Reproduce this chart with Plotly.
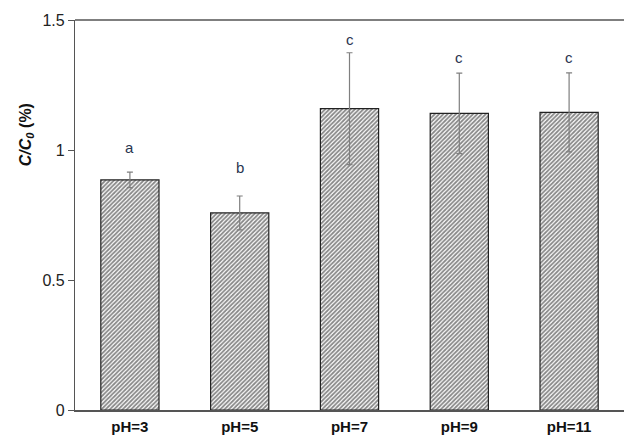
import plotly.graph_objects as go

categories = ["pH=3", "pH=5", "pH=7", "pH=9", "pH=11"]
values = [0.885, 0.758, 1.159, 1.141, 1.145]
errors = [0.03, 0.065, 0.215, 0.155, 0.152]
letters = ["a", "b", "c", "c", "c"]
letter_offset = [0.095, 0.11, 0.05, 0.06, 0.06]

fig = go.Figure()
fig.add_trace(go.Bar(
    x=categories, y=values,
    marker=dict(color="white", line=dict(color="#222222", width=1.2),
                pattern=dict(shape="/", fgcolor="#111111", bgcolor="white", size=3, solidity=0.6)),
    error_y=dict(type="data", array=errors, visible=True, color="#7f7f7f", thickness=1.2, width=3),
    width=0.53,
))

for c, v, e, l, o in zip(categories, values, errors, letters, letter_offset):
    fig.add_annotation(x=c, y=v + e + o, text=l, showarrow=False,
                       font=dict(family="Arial, Liberation Sans", size=15, color="#2a3550"),
                       xanchor="center", yanchor="middle")

fig.add_annotation(xref="paper", yref="paper", x=-0.089, y=0.705,
                   text="<b><i>C/C<sub>0</sub></i> (%)</b>", textangle=-90, showarrow=False,
                   font=dict(family="Arial, Liberation Sans", size=16, color="#111111"),
                   xanchor="center", yanchor="middle")

# top frame line
fig.add_shape(type="line", xref="paper", yref="paper", x0=0, x1=1, y0=1, y1=1,
              line=dict(color="#555555", width=1.5))

fig.update_layout(
    width=624, height=439,
    margin=dict(l=75, r=0, t=20, b=29),
    paper_bgcolor="white", plot_bgcolor="white",
    showlegend=False,
    xaxis=dict(showline=True, linecolor="#555555", linewidth=1.5, mirror=False,
               ticks="", showgrid=False, ticklabelstandoff=2,
               tickfont=dict(family="Arial, Liberation Sans", size=15, color="#111111"),
               tickprefix="<b>", ticksuffix="</b>"),
    yaxis=dict(range=[0, 1.5], tickvals=[0, 0.5, 1, 1.5], ticktext=["0", "0.5", "1", "1.5"],
               showline=True, linecolor="#555555", linewidth=1.2,
               ticks="outside", ticklen=6, tickcolor="#555555",
               showgrid=False, zeroline=False,
               tickfont=dict(family="Arial, Liberation Sans", size=16, color="#222222")),
)

fig.write_html("out.html", config={"displayModeBar": False},
               post_script="document.body.style.margin='0';document.body.style.overflow='hidden';")
